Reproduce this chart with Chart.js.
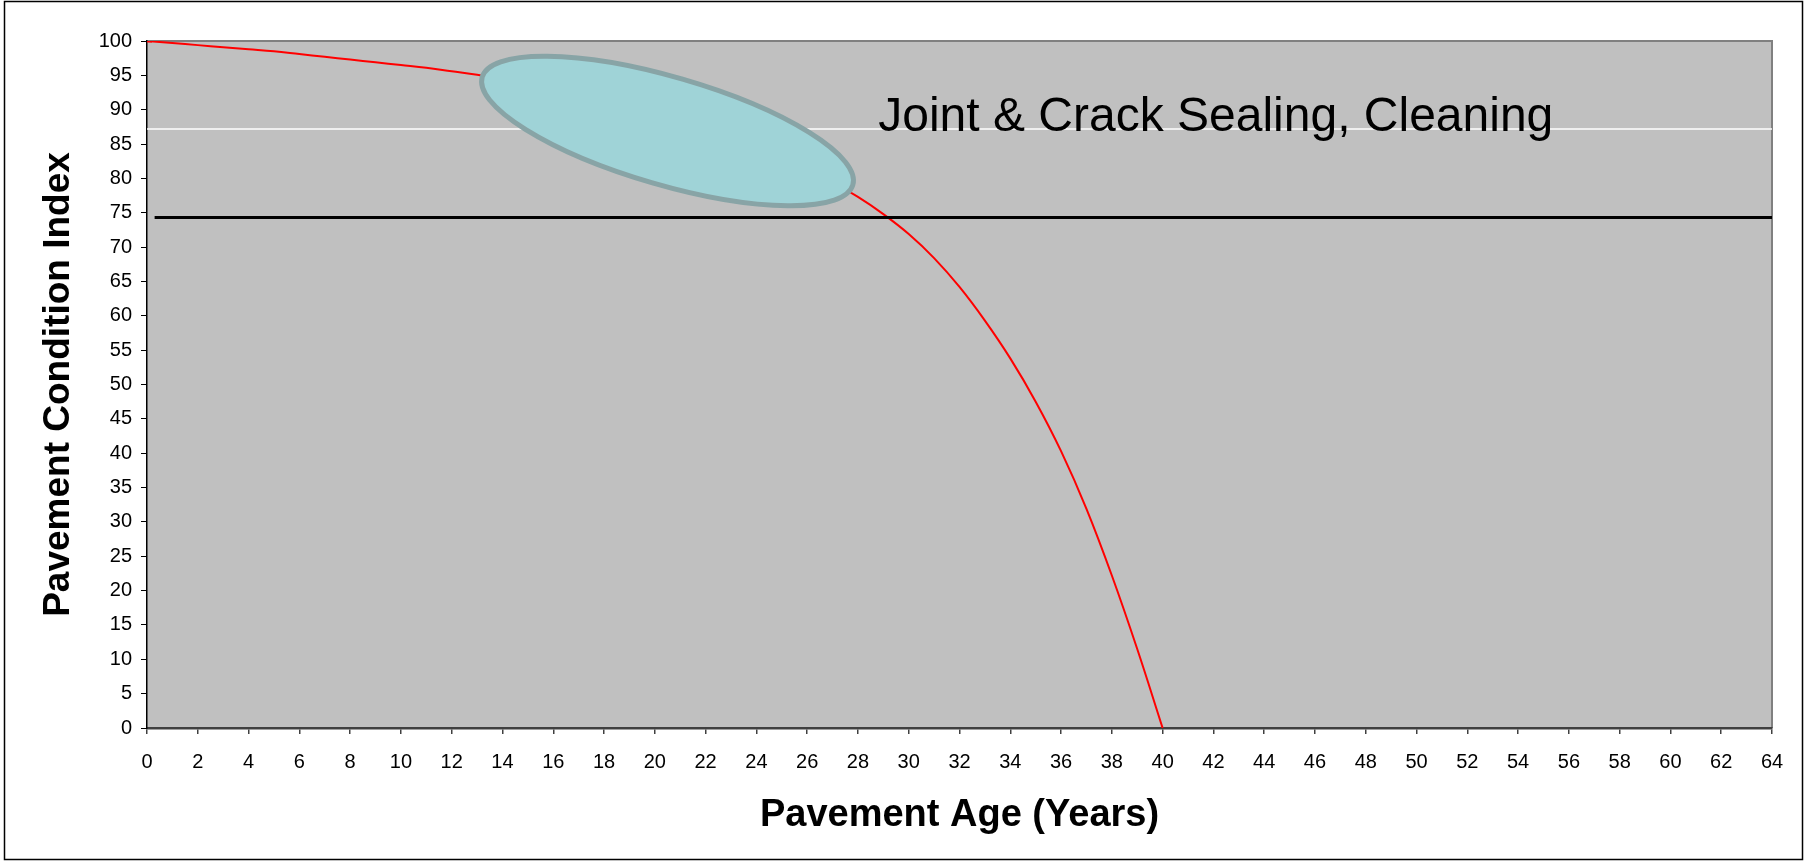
<!DOCTYPE html>
<html>
<head>
<meta charset="utf-8">
<title>Pavement Condition Index</title>
<script src="https://cdn.jsdelivr.net/npm/chart.js@4.4.1/dist/chart.umd.min.js"></script>
<style>
  html, body { margin: 0; padding: 0; background: #fff; }
  #wrap { width: 1805px; height: 862px; }
</style>
</head>
<body>
<div id="wrap"><canvas id="myChart" width="1805" height="862"></canvas></div>
<script>
// pavement age (years) and condition index
const ages = [0, 1, 2, 3, 4, 5, 6, 7, 8, 9, 10, 11, 12, 13, 14, 15, 16, 17, 18, 19, 20,
              21, 22, 23, 24, 25, 26, 27, 28, 29, 30, 31, 32, 33, 34, 35, 36, 37, 38, 39, 40];
const pci = [100, 99.7, 99.4, 99.1, 98.8, 98.5, 98.1, 97.7, 97.3, 96.9, 96.5,
             96.1, 95.6, 95.1, 94.5, 93.9, 93.2, 92.4, 91.6, 90.7, 89.7,
             88.6, 87.4, 86.1, 84.6, 83.0, 81.3, 79.4, 77.3, 74.8, 71.9,
             68.4, 64.2, 59.3, 53.8, 47.5, 40.3, 31.9, 22.2, 11.5, 0];

// horizontal lines
const whiteX = [0, 64];
const whiteY = [87.2, 87.2];
const triggerX = [0.3, 64];
const triggerY = [74.3, 74.3];

// tick values
const xTickValues = [0, 2, 4, 6, 8, 10, 12, 14, 16, 18, 20, 22, 24, 26, 28, 30, 32,
                     34, 36, 38, 40, 42, 44, 46, 48, 50, 52, 54, 56, 58, 60, 62, 64];
const yTickValues = [0, 5, 10, 15, 20, 25, 30, 35, 40, 45, 50, 55, 60, 65, 70, 75, 80, 85, 90, 95, 100];

// callout
const calloutText = 'Joint & Crack Sealing, Cleaning';
const calloutAt = [28.8, 86.9];
const bubbleAt = [20.5, 86.9];

const FONT = 'Arial, "Liberation Sans", sans-serif';

const toPoints = (xs, ys) => xs.map((v, i) => ({ x: v, y: ys[i] }));

const decorations = {
    id: 'decorations',
    beforeDraw(chart) {
        const { ctx, chartArea: a } = chart;
        ctx.save();
        ctx.fillStyle = '#fff';
        ctx.fillRect(0, 0, chart.width, chart.height);
        ctx.fillStyle = '#c0c0c0';
        ctx.fillRect(a.left, a.top, a.right - a.left, a.bottom - a.top);
        // outer frame
        ctx.strokeStyle = '#000';
        ctx.lineWidth = 1.5;
        ctx.strokeRect(4.5, 1.5, chart.width - 7, chart.height - 4);
        // plot border top / right
        ctx.strokeStyle = '#808080';
        ctx.lineWidth = 2;
        ctx.beginPath();
        ctx.moveTo(a.left, a.top);
        ctx.lineTo(a.right, a.top);
        ctx.lineTo(a.right, a.bottom);
        ctx.stroke();
        ctx.restore();
    },
    afterDatasetsDraw(chart) {
        const { ctx, scales: { x, y } } = chart;
        ctx.save();
        ctx.translate(x.getPixelForValue(bubbleAt[0]), y.getPixelForValue(bubbleAt[1]));
        ctx.rotate(16.2 * Math.PI / 180);
        ctx.beginPath();
        ctx.ellipse(0, 0, 193, 54, 0, 0, 2 * Math.PI);
        ctx.fillStyle = '#9fd3d7';
        ctx.fill();
        ctx.lineWidth = 5;
        ctx.strokeStyle = '#88a4a6';
        ctx.stroke();
        ctx.restore();

        ctx.save();
        ctx.font = '48px ' + FONT;
        ctx.fillStyle = '#000';
        ctx.textBaseline = 'alphabetic';
        ctx.fillText(calloutText, x.getPixelForValue(calloutAt[0]), y.getPixelForValue(calloutAt[1]));
        ctx.restore();
    }
};

const ctx = document.getElementById('myChart');

new Chart(ctx, {
    type: 'line',
    data: {
        datasets: [
            {
                label: 'Trigger',
                data: toPoints(triggerX, triggerY),
                borderColor: '#000',
                borderWidth: 3,
                pointRadius: 0
            },
            {
                label: 'PCI',
                data: toPoints(ages, pci),
                borderColor: '#ff0000',
                borderWidth: 2,
                tension: 0.4,
                pointStyle: 'line',
                pointRadius: (c) => c.dataIndex === 0 ? 5 : 0,
                pointBorderColor: '#ff0000',
                pointBorderWidth: 3
            },
            {
                label: 'Upper',
                data: toPoints(whiteX, whiteY),
                borderColor: '#fff',
                borderWidth: 1.5,
                pointRadius: 0
            }
        ]
    },
    options: {
        responsive: false,
        animation: false,
        devicePixelRatio: 1,
        layout: { padding: { top: 41, right: 33, left: 0, bottom: 0 } },
        plugins: {
            legend: { display: false },
            tooltip: { enabled: false }
        },
        scales: {
            x: {
                type: 'linear',
                min: 0,
                max: 64,
                afterBuildTicks: (s) => { s.ticks = xTickValues.map(v => ({ value: v })); },
                afterFit: (s) => { s.height = 134; },
                grid: { drawOnChartArea: false, tickLength: 6, color: '#404040', lineWidth: 1.5 },
                border: { color: '#404040', width: 2.5 },
                ticks: { color: '#000', padding: 16, maxRotation: 0, autoSkip: false, font: { family: FONT, size: 20 } },
                title: {
                    display: true,
                    text: 'Pavement Age (Years)',
                    color: '#000',
                    padding: { top: 0, bottom: 24 },
                    font: { family: FONT, size: 38, weight: 'bold' }
                }
            },
            y: {
                min: 0,
                max: 100,
                afterBuildTicks: (s) => { s.ticks = yTickValues.map(v => ({ value: v })); },
                afterFit: (s) => { s.width = 147; },
                grid: { drawOnChartArea: false, tickLength: 6, color: '#000', lineWidth: 1 },
                border: { color: '#000', width: 1.5 },
                ticks: { color: '#000', padding: 9, autoSkip: false, font: { family: FONT, size: 20 } },
                title: {
                    display: true,
                    text: 'Pavement Condition Index',
                    color: '#000',
                    padding: { top: 37, bottom: 0 },
                    font: { family: FONT, size: 37, weight: 'bold' }
                }
            }
        }
    },
    plugins: [decorations]
});
</script>
</body>
</html>
